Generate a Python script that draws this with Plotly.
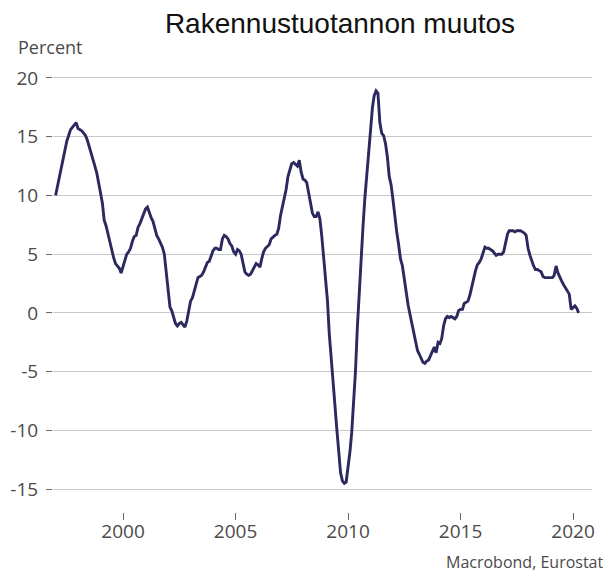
import pandas as pd
import plotly.graph_objects as go

title_text = "Rakennustuotannon muutos"
y_label = "Percent"
source_text = "Macrobond, Eurostat"
start_month = "1997-01-01"

# Monthly change in construction output, percent (Jan 1997 - Apr 2020)
values = [
    # 1997
    10.0, 10.8, 11.5, 12.1, 13.0, 13.9, 14.6, 15.1, 15.6, 15.8, 16.0, 16.2,
    # 1998
    15.7, 15.6, 15.5, 15.3, 15.1, 14.7, 14.1, 13.7, 13.1, 12.5, 11.9, 11.2,
    # 1999
    10.2, 9.3, 7.9, 7.4, 6.8, 6.2, 5.4, 4.7, 4.2, 4.0, 3.8, 3.4,
    # 2000
    4.0, 4.5, 5.0, 5.2, 5.5, 6.1, 6.5, 6.6, 7.3, 7.6, 8.0, 8.5,
    # 2001
    8.85, 9.0, 8.5, 8.1, 7.8, 7.2, 6.6, 6.3, 6.0, 5.6, 5.0, 3.6,
    # 2002
    2.0, 0.5, 0.2, -0.5, -0.9, -1.1, -0.9, -0.8, -1.0, -1.2, -0.7, 0.1,
    # 2003
    1.0, 1.3, 1.8, 2.5, 3.0, 3.1, 3.2, 3.5, 3.9, 4.3, 4.4, 4.8,
    # 2004
    5.3, 5.5, 5.5, 5.4, 5.4, 6.3, 6.6, 6.5, 6.3, 5.9, 5.7, 5.2,
    # 2005
    5.0, 5.4, 5.3, 5.0, 4.3, 3.5, 3.3, 3.2, 3.3, 3.6, 3.9, 4.2,
    # 2006
    4.1, 3.9, 4.6, 5.2, 5.5, 5.7, 5.8, 6.3, 6.5, 6.6, 6.7, 7.2,
    # 2007
    8.3, 9.1, 9.6, 10.5, 11.6, 12.3, 12.7, 12.8, 12.6, 12.5, 13.0, 12.0,
    # 2008
    11.4, 11.3, 11.1, 10.2, 9.1, 8.5, 8.2, 8.2, 8.6, 8.0, 6.5, 4.9,
    # 2009
    2.8, 1.0, -1.7, -4.0, -6.0, -7.8, -9.8, -11.8, -13.6, -14.3, -14.5, -14.4,
    # 2010
    -13.3, -11.8, -10.2, -7.6, -5.0, -1.2, 2.0, 4.9, 7.4, 9.8, 11.9, 14.0,
    # 2011
    15.9, 17.5, 18.5, 18.9, 18.7, 16.2, 15.3, 15.1, 14.4, 13.3, 11.6, 10.9,
    # 2012
    9.6, 8.1, 6.9, 5.8, 4.6, 4.0, 2.8, 1.7, 0.7, -0.1, -0.9, -1.6,
    # 2013
    -2.6, -3.2, -3.5, -3.9, -4.2, -4.3, -4.1, -4.0, -3.6, -3.2, -2.9, -3.4,
    # 2014
    -2.5, -2.6, -2.2, -1.1, -0.5, -0.3, -0.4, -0.3, -0.4, -0.5, -0.3, 0.2,
    # 2015
    0.3, 0.3, 0.8, 0.9, 1.0, 1.5, 2.2, 3.0, 3.6, 4.1, 4.3, 4.6,
    # 2016
    5.2, 5.6, 5.5, 5.5, 5.4, 5.3, 5.1, 4.9, 5.0, 5.0, 5.0, 5.2,
    # 2017
    6.0, 6.7, 7.0, 7.0, 7.0, 6.9, 7.0, 7.0, 7.0, 6.9, 6.8, 6.6,
    # 2018
    5.5, 4.9, 4.4, 4.0, 3.7, 3.7, 3.6, 3.5, 3.1, 3.0, 3.0, 3.0,
    # 2019
    3.0, 3.0, 3.2, 4.0, 3.4, 3.0, 2.7, 2.4, 2.1, 1.9, 1.6, 0.3,
    # 2020
    0.5, 0.6, 0.4, 0.0,
]

y_ticks = [-15, -10, -5, 0, 5, 10, 15, 20]
x_tick_years = ["2000", "2005", "2010", "2015", "2020"]

dates = pd.date_range(start_month, periods=len(values), freq="MS")

# The page body has an 8px default margin; the figure is sized so that
# figure + margin fills the 611x579 window.
OFF = 8
W, H = 611 - OFF, 579 - OFF
PL, PR, PT, PB = 53, 592, 70, 512  # plot area in window pixels
PW, PH = PR - PL, PB - PT

fig = go.Figure()
fig.add_trace(go.Scatter(
    x=dates, y=values, mode="lines",
    line=dict(color="#2c295e", width=2.9),
    hoverinfo="skip", showlegend=False,
))

tick_font = dict(family="Open Sans, sans-serif", size=19, color="#4a4a4a")

fig.update_layout(
    width=W, height=H,
    margin=dict(l=PL - OFF, r=611 - PR, t=PT - OFF, b=579 - PB, pad=0, autoexpand=False),
    paper_bgcolor="white", plot_bgcolor="white",
    title=dict(text=title_text, x=(340 - OFF) / W, xanchor="center", xref="container",
               y=1 - (23 - OFF) / H, yanchor="middle", yref="container",
               font=dict(family="Liberation Sans, Arial, sans-serif", size=28, color="#111111")),
    xaxis=dict(
        type="date", automargin=False,
        range=["1996-11-20", "2020-11-04"],
        tickvals=[f"{y}-01-01" for y in x_tick_years],
        ticktext=x_tick_years,
        ticks="outside", ticklen=7, tickwidth=1, tickcolor="#666666",
        showgrid=False, zeroline=False, showline=False,
        tickfont=tick_font,
        ticklabelstandoff=-5,
    ),
    yaxis=dict(
        automargin=False,
        range=[-16.95, 20.68],
        tickvals=y_ticks,
        ticktext=[str(v) for v in y_ticks],
        ticks="outside", ticklen=6, tickwidth=1, tickcolor="#666666",
        showgrid=True, gridcolor="#c8c8c8", gridwidth=1,
        zeroline=False, showline=False,
        tickfont=tick_font,
        ticklabelstandoff=4,
    ),
    annotations=[
        dict(text=y_label, xref="paper", yref="paper", x=(16 - PL) / PW, y=1 + (PT - 47) / PH,
             xanchor="left", yanchor="middle", showarrow=False,
             font=dict(family="Open Sans, sans-serif", size=18, color="#4a4a4a")),
        dict(text=source_text, xref="paper", yref="paper", x=1 + (606 - PR) / PW, y=-(562 - PB) / PH,
             xanchor="right", yanchor="middle", showarrow=False,
             font=dict(family="Open Sans, sans-serif", size=16, color="#4a4a4a")),
    ],
)

fig.write_html("out.html")
